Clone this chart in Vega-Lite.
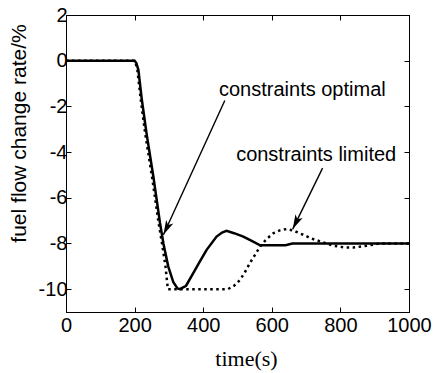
{
  "$schema": "https://vega.github.io/schema/vega-lite/v6.json",
  "width": 343,
  "height": 297,
  "autosize": {"type": "none"},
  "padding": {"left": 66, "top": 15, "right": 26, "bottom": 61},
  "background": "white",
  "config": {
    "view": {"stroke": "black", "strokeWidth": 1},
    "axis": {
      "grid": false,
      "domainColor": "black",
      "tickColor": "black",
      "labelColor": "black",
      "titleColor": "black",
      "labelFont": "Liberation Sans",
      "titleFont": "Liberation Sans",
      "labelFontSize": 20,
      "tickSize": -5,
      "labelFontWeight": "normal",
      "titleFontWeight": "normal",
      "labelFlush": false,
      "labelOverlap": false
    }
  },
  "datasets": {
    "optimal": [
      {"t": 0, "v": 0}, {"t": 200, "v": 0}, {"t": 205, "v": -0.1}, {"t": 211, "v": -0.4},
      {"t": 221, "v": -1.7}, {"t": 235, "v": -3.2}, {"t": 255, "v": -5.1}, {"t": 274, "v": -7.1},
      {"t": 284, "v": -8.0}, {"t": 298, "v": -9.0}, {"t": 313, "v": -9.7}, {"t": 325, "v": -9.97},
      {"t": 332, "v": -10.0}, {"t": 350, "v": -9.85}, {"t": 371, "v": -9.3}, {"t": 390, "v": -8.8},
      {"t": 410, "v": -8.28}, {"t": 439, "v": -7.7}, {"t": 455, "v": -7.52}, {"t": 468, "v": -7.45},
      {"t": 490, "v": -7.55}, {"t": 517, "v": -7.7}, {"t": 540, "v": -7.88}, {"t": 566, "v": -8.08},
      {"t": 640, "v": -8.08}, {"t": 660, "v": -8.0}, {"t": 1000, "v": -8.0}
    ],
    "limited": [
      {"t": 0, "v": 0}, {"t": 200, "v": 0}, {"t": 203, "v": -0.1}, {"t": 208, "v": -0.4},
      {"t": 218, "v": -1.7}, {"t": 231, "v": -3.2}, {"t": 251, "v": -5.1}, {"t": 270, "v": -7.1},
      {"t": 280, "v": -8.0}, {"t": 290, "v": -9.0}, {"t": 297, "v": -10.0}, {"t": 472, "v": -10.0},
      {"t": 490, "v": -9.85}, {"t": 507, "v": -9.6}, {"t": 522, "v": -9.25}, {"t": 536, "v": -8.86},
      {"t": 551, "v": -8.5}, {"t": 566, "v": -8.13}, {"t": 585, "v": -7.8}, {"t": 605, "v": -7.55},
      {"t": 625, "v": -7.42}, {"t": 643, "v": -7.37}, {"t": 660, "v": -7.42}, {"t": 692, "v": -7.62},
      {"t": 715, "v": -7.78}, {"t": 741, "v": -7.91}, {"t": 779, "v": -8.1}, {"t": 810, "v": -8.17},
      {"t": 838, "v": -8.18}, {"t": 877, "v": -8.1}, {"t": 915, "v": -8.0}, {"t": 1000, "v": -8.0}
    ],
    "arrows": [
      {"t": 463, "v": -1.74, "t2": 284, "v2": -7.62},
      {"t": 748, "v": -4.7, "t2": 661, "v2": -7.37}
    ],
    "labels": [
      {"label": "constraints optimal", "t": 446, "v": -1.56},
      {"label": "constraints limited", "t": 496, "v": -4.41}
    ]
  },
  "layer": [
    {
      "data": {"name": "optimal"},
      "mark": {"type": "line", "color": "black", "strokeWidth": 2.5},
      "encoding": {
        "x": {
          "field": "t", "type": "quantitative",
          "scale": {"domain": [0, 1000], "nice": false},
          "axis": {
            "values": [0, 200, 400, 600, 800, 1000],
            "format": "d",
            "labelPadding": 8,
            "title": "time(s)",
            "titleFont": "Liberation Serif",
            "titleFontSize": 22,
            "titleX": 180,
            "titleY": 53,
            "titleBaseline": "alphabetic"
          }
        },
        "y": {
          "field": "v", "type": "quantitative",
          "scale": {"domain": [-11, 2], "nice": false, "zero": false},
          "axis": {
            "values": [2, 0, -2, -4, -6, -8, -10],
            "labelPadding": 4,
            "labelExpr": "replace(datum.label, '−', '-')",
            "title": "fuel flow change rate/%",
            "titleFontSize": 21,
            "titleX": -47,
            "titleY": 118,
            "titleAngle": -90,
            "titleBaseline": "middle",
            "titleAlign": "center"
          }
        }
      }
    },
    {
      "data": {"name": "limited"},
      "mark": {"type": "line", "color": "black", "strokeWidth": 2.5, "strokeDash": [2.5, 3.5]},
      "encoding": {
        "x": {
          "field": "t", "type": "quantitative",
          "scale": {"domain": [0, 1000], "nice": false},
          "axis": {"orient": "top", "labels": false, "title": null, "values": [0, 200, 400, 600, 800, 1000]}
        },
        "y": {
          "field": "v", "type": "quantitative",
          "scale": {"domain": [-11, 2], "nice": false, "zero": false},
          "axis": {"orient": "right", "labels": false, "title": null, "values": [2, 0, -2, -4, -6, -8, -10]}
        }
      }
    },
    {
      "data": {"name": "arrows"},
      "mark": {"type": "rule", "color": "black", "strokeWidth": 1.4},
      "encoding": {
        "x": {"field": "t", "type": "quantitative", "axis": null},
        "y": {"field": "v", "type": "quantitative", "axis": null},
        "x2": {"field": "t2"},
        "y2": {"field": "v2"}
      }
    },
    {
      "data": {"name": "arrows"},
      "mark": {"type": "point", "filled": true, "color": "black", "opacity": 1, "shape": "M0,0L0.5,1.8L0,1.35L-0.5,1.8Z", "size": 256, "angle": 206},
      "encoding": {
        "x": {"field": "t2", "type": "quantitative", "axis": null},
        "y": {"field": "v2", "type": "quantitative", "axis": null}
      }
    },
    {
      "data": {"name": "labels"},
      "mark": {"type": "text", "font": "Liberation Sans", "fontSize": 20, "align": "left", "baseline": "alphabetic", "color": "black"},
      "encoding": {
        "x": {"field": "t", "type": "quantitative", "axis": null},
        "y": {"field": "v", "type": "quantitative", "axis": null},
        "text": {"field": "label"}
      }
    }
  ],
  "resolve": {"axis": {"x": "independent", "y": "independent"}}
}
